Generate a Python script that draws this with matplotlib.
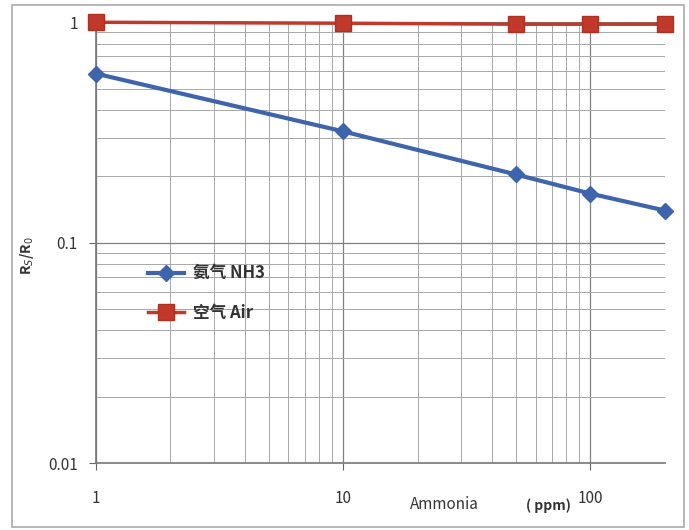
import numpy as np
import matplotlib
matplotlib.use("Agg")
import matplotlib.pyplot as plt
from matplotlib.patches import Rectangle

plt.rcParams['font.family'] = ['Noto Sans CJK SC', 'DejaVu Sans']

# data
ppm = [1, 10, 50, 100, 200]
nh3 = [0.585, 0.32, 0.204, 0.167, 0.14]
air = [1.0, 0.99, 0.98, 0.98, 0.98]
x_ticks = [1, 10, 100]
x_labels = ["1", "10", "100"]
y_ticks = [0.01, 0.1, 1]
y_labels = ["0.01", "0.1", "1"]

fig = plt.figure(figsize=(6.89, 5.30), dpi=100)
ax = fig.add_axes([0.139, 0.126, 0.826, 0.832])

ax.set_xscale("log")
ax.set_yscale("log")
ax.set_xlim(1, 200)
ax.set_ylim(0.01, 1)

ax.grid(True, which="major", color="#808080", lw=0.9)
ax.grid(True, which="minor", color="#a8a8a8", lw=0.7)

ax.plot(ppm, nh3, color="#3d64ad", lw=3, marker="D", ms=8,
        label="氨气 NH3", clip_on=False, zorder=3)
ax.plot(ppm, air, color="#c0392b", lw=2.5, marker="s", ms=11,
        mfc="#c0392b", mec="#b03020", label="空气 Air", clip_on=False, zorder=3)

ax.set_xticks(x_ticks)
ax.set_xticklabels(x_labels)
ax.set_yticks(y_ticks)
ax.set_yticklabels(y_labels)
ax.tick_params(which="major", length=5, color="#666666", labelsize=11,
               labelcolor="#333333")
ax.tick_params(axis="x", pad=14)
ax.tick_params(axis="y", pad=8)
ax.tick_params(which="minor", length=0)
for s in ["top", "right"]:
    ax.spines[s].set_visible(False)
for s in ["left", "bottom"]:
    ax.spines[s].set_color("#777777")
    ax.spines[s].set_linewidth(1.2)

leg = ax.legend(loc="upper left", bbox_to_anchor=(0.065, 0.485), frameon=False,
                prop={"size": 12, "weight": "bold"}, handlelength=2.2,
                handletextpad=0.5, labelspacing=1.3, labelcolor="#333333")

ax.set_ylabel("R$_S$/R$_0$", fontsize=10, fontweight="bold", color="#333333",
              labelpad=4)
ax.yaxis.set_label_coords(-0.105, 0.47)

fig.text(0.595, 0.04, "Ammonia", fontsize=11, color="#333333", ha="left")
fig.text(0.828, 0.037, "( ppm)", fontsize=10, fontweight="bold",
         color="#333333", ha="right")

fig.patches.append(Rectangle((0.017, 0.006), 0.976, 0.984,
                             transform=fig.transFigure, fill=False,
                             ec="#aaaaaa", lw=1.2))

fig.savefig("out.png", dpi=100)
